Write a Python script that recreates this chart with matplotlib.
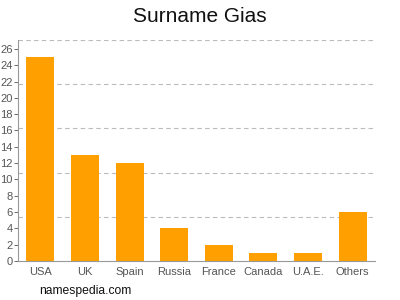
import matplotlib.pyplot as plt
import numpy as np

countries = ["USA", "UK", "Spain", "Russia", "France", "Canada", "U.A.E.", "Others"]
counts = [25, 13, 12, 4, 2, 1, 1, 6]
y_ticks = list(range(0, 27, 2))

plt.rcParams['font.family'] = ['Liberation Sans', 'DejaVu Sans']

fig = plt.figure(figsize=(4, 3), dpi=100)
ax = fig.add_axes([0.045, 0.13, 0.8925, 0.737])

x = np.arange(len(countries))
ax.bar(x, counts, width=0.63, color="#ffa000", zorder=2)

ymax = 27.1
ax.set_ylim(0, ymax)
ax.set_xlim(-0.5, len(countries) - 0.5)
for i in range(1, 6):
    ax.axhline(ymax * i / 5, color="#bbbbbb", linestyle=(0, (4, 3)), linewidth=0.8, zorder=1)

ax.set_yticks(y_ticks)
ax.set_xticks(x)
ax.set_xticklabels(countries)
ax.tick_params(axis="both", labelsize=8, colors="#555555", length=3, width=0.6, pad=1)
ax.tick_params(axis="x", length=0, pad=4)
for s in ["top", "right"]:
    ax.spines[s].set_visible(False)
for s in ["left", "bottom"]:
    ax.spines[s].set_color("#999999")
    ax.spines[s].set_linewidth(0.8)

fig.text(0.5, 0.945, "Surname Gias", ha="center", va="center", fontsize=15, color="#111111")
fig.text(0.097, 0.03, "namespedia.com", ha="left", va="center", fontsize=8.7, color="#111111")

fig.savefig("out.png", dpi=100)
